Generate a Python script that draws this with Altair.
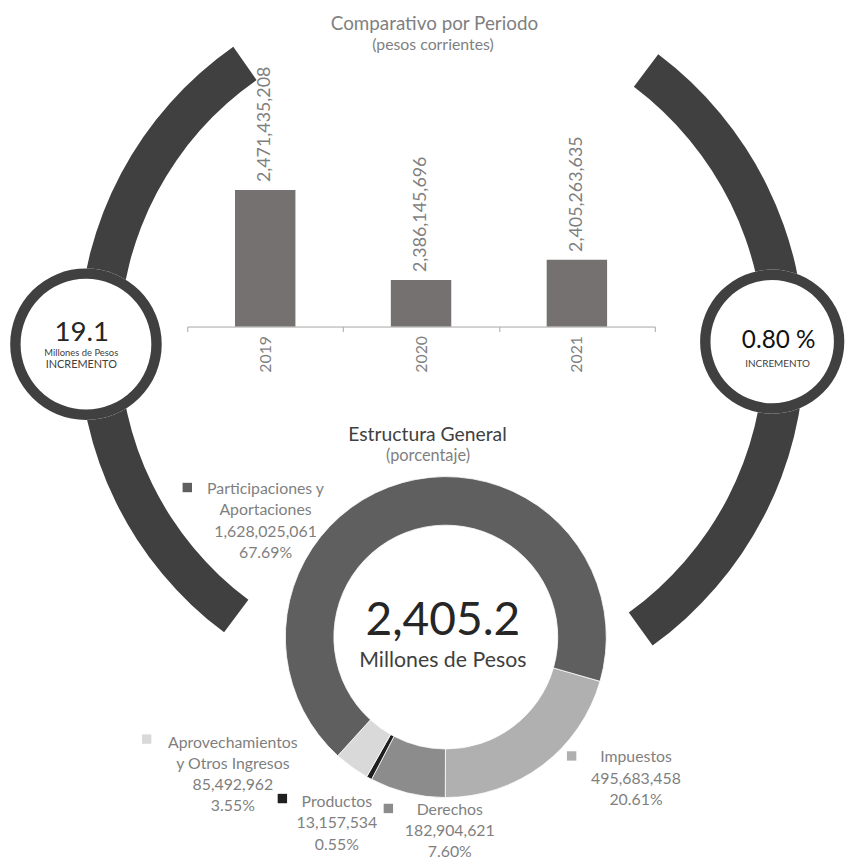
import math
import altair as alt
import pandas as pd

# ---------------- data ----------------
years = ["2019", "2020", "2021"]
totals = [2471435208, 2386145696, 2405263635]

categories = ["Impuestos", "Derechos", "Productos",
              "Aprovechamientos\ny Otros Ingresos", "Participaciones y\nAportaciones"]
amounts = [495683458, 182904621, 13157534, 85492962, 1628025061]
shares = [20.61, 7.60, 0.55, 3.55, 67.69]

title_top = "Comparativo por Periodo"
subtitle_top = "(pesos corrientes)"
title_mid = "Estructura General"
subtitle_mid = "(porcentaje)"
center_value = "2,405.2"
center_unit = "Millones de Pesos"
increase_amount = f"{(totals[2] - totals[1]) / 1e6:.1f}"
increase_pct = f"{(totals[2] - totals[1]) / totals[1] * 100:.2f} %"

# ---------------- styles / layout ----------------
FONT = "Lato"
DARK = "#404040"
GRAY = "#7f7f7f"
BAR = "#767171"
slice_colors = ["#b0b0b0", "#8c8c8c", "#1f1f1f", "#d9d9d9", "#5f5f5f"]

W, H = 845, 857
M = 8  # page margin


def px(v):
    return v - M


one = pd.DataFrame({"k": [0]})


def text(t, x, y, size, color, align="center", baseline="alphabetic", **kw):
    return alt.Chart(one).mark_text(
        text=t, font=FONT, fontSize=size, color=color, align=align, baseline=baseline, **kw
    ).encode(x=alt.value(px(x)), y=alt.value(px(y)))


def ring(cx, cy, r_in, r_out, color, t0=0.0, t1=2 * math.pi):
    return alt.Chart(one).mark_arc(
        theta=t0, theta2=t1, innerRadius=r_in, outerRadius=r_out, color=color, strokeWidth=0
    ).encode(x=alt.value(px(cx)), y=alt.value(px(cy)))


layers = []

# big decorative arcs
layers.append(ring(444, 342, 323.5, 364.5, DARK, math.radians(216.7), math.radians(325.1)))
layers.append(ring(442, 347, 329.5, 370.5, DARK, math.radians(36.9), math.radians(144.2)))

# side circles
layers.append(ring(86.7, 343.3, 0, 76.5, "white"))
layers.append(ring(86.7, 343.3, 66, 76.5, DARK))
layers.append(ring(779.5, 340.7, 0, 72.8, "white"))
layers.append(ring(779.5, 340.7, 62.3, 72.8, DARK))

# bar chart
bars_df = pd.DataFrame({"year": years, "total": totals})
xenc = alt.X(
    "year:N",
    scale=alt.Scale(range=[px(189), px(661)], paddingInner=0, paddingOuter=0),
    axis=alt.Axis(
        title=None, orient="bottom", offset=-(H - px(325.5)),
        domainColor="#a6a6a6", tickColor="#a6a6a6", tickSize=5, tickBand="extent",
        labelAngle=270, labelColor=GRAY, labelFont=FONT, labelFontSize=16, labelPadding=4,
    ),
)
yenc = alt.Y(
    "total:Q",
    scale=alt.Scale(domain=[2342e6, 2642e6], range=[px(325.5), px(6)], zero=False, nice=False),
    axis=None,
)
bars = alt.Chart(bars_df).mark_bar(size=61, color=BAR).encode(
    x=xenc, y=yenc, y2=alt.datum(2342e6)
)
bar_labels = alt.Chart(bars_df).mark_text(
    angle=270, align="left", baseline="middle", dx=8, font=FONT, fontSize=18, color=GRAY
).encode(x=alt.X("year:N"), y=alt.Y("total:Q"), text=alt.Text("total:Q", format=","))
layers += [bars, bar_labels]

# titles
layers.append(text(title_top, 438.5, 26, 19, GRAY))
layers.append(text(subtitle_top, 437, 46, 16, GRAY))
layers.append(text(title_mid, 431.5, 441, 19.5, DARK))
layers.append(text(subtitle_mid, 432, 461, 16.5, GRAY))

# donut
donut_df = pd.DataFrame({"category": categories, "amount": amounts, "order": list(range(len(categories)))})
a0 = math.radians(106)
donut = alt.Chart(donut_df).mark_arc(
    outerRadius=162, innerRadius=113, stroke="white", strokeWidth=0.8
).encode(
    theta=alt.Theta("amount:Q", stack=True, scale=alt.Scale(range=[a0, a0 + 2 * math.pi])),
    order=alt.Order("order:Q"),
    color=alt.Color("category:N", scale=alt.Scale(domain=categories, range=slice_colors), legend=None),
    x=alt.value(px(450)),
    y=alt.value(px(639)),
)
layers.append(donut)
layers.append(text(center_value, 447, 637, 46.5, "#262626"))
layers.append(text(center_unit, 447, 669, 21.5, DARK))

# slice labels (layout positions)
label_xy = [(642, 765.5), (454, 818.5), (340, 810.5), (235, 750.5), (268, 494.5)]
square_xy = [(577, 759), (392, 812), (285, 802), (148, 742), (189, 488)]
for i, cat in enumerate(categories):
    t = f"{cat}\n{amounts[i]:,}\n{shares[i]:.2f}%"
    lx, ly = label_xy[i]
    layers.append(text(t, lx, ly, 16, GRAY, lineBreak="\n", lineHeight=21.5))
    sx, sy = square_xy[i]
    layers.append(
        alt.Chart(one).mark_square(size=90, color=slice_colors[i], opacity=1)
        .encode(x=alt.value(px(sx)), y=alt.value(px(sy)))
    )

# circle texts
layers.append(text(increase_amount, 82.5, 340, 28, "#262626"))
layers.append(text("Millones de Pesos", 82, 355.5, 9.5, DARK))
layers.append(text("INCREMENTO", 82, 367, 11, DARK))
layers.append(text(increase_pct, 786, 347, 24.5, "#111111"))
layers.append(text("INCREMENTO", 785, 366.5, 10, DARK))

chart = alt.layer(*layers).properties(
    width=W, height=H, padding=0, autosize=alt.AutoSizeParams(type="none")
).configure_view(stroke=None)

chart.save("out.html", embed_options={"renderer": "svg", "actions": False})
